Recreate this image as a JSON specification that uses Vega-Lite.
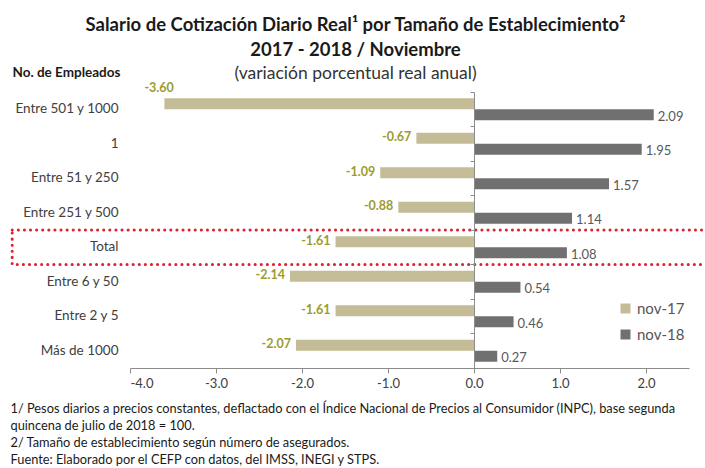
{
  "$schema": "https://vega.github.io/schema/vega-lite/v6.json",
  "autosize": {"type": "none"},
  "width": 559,
  "height": 276,
  "padding": {"left": 130, "top": 92, "right": 16, "bottom": 100},
  "background": "white",
  "config": {
    "font": "Lato",
    "view": {"stroke": null}
  },
  "title": {
    "text": ["Salario de Cotización Diario Real¹ por Tamaño de Establecimiento²", "2017 - 2018 / Noviembre"],
    "subtitle": "(variación porcentual real anual)",
    "anchor": "middle",
    "dx": -54,
    "fontSize": 18.5,
    "fontWeight": "bold",
    "color": "#1a1a1a",
    "lineHeight": 25,
    "subtitleFontSize": 17.5,
    "subtitleColor": "#333333",
    "subtitlePadding": 5,
    "offset": -17
  },
  "datasets": {
    "main": [
      {"cat": "Entre 501 y 1000", "serie": "nov-17", "valor": -3.60},
      {"cat": "Entre 501 y 1000", "serie": "nov-18", "valor": 2.09},
      {"cat": "1", "serie": "nov-17", "valor": -0.67},
      {"cat": "1", "serie": "nov-18", "valor": 1.95},
      {"cat": "Entre 51 y 250", "serie": "nov-17", "valor": -1.09},
      {"cat": "Entre 51 y 250", "serie": "nov-18", "valor": 1.57},
      {"cat": "Entre 251 y 500", "serie": "nov-17", "valor": -0.88},
      {"cat": "Entre 251 y 500", "serie": "nov-18", "valor": 1.14},
      {"cat": "Total", "serie": "nov-17", "valor": -1.61},
      {"cat": "Total", "serie": "nov-18", "valor": 1.08},
      {"cat": "Entre 6 y 50", "serie": "nov-17", "valor": -2.14},
      {"cat": "Entre 6 y 50", "serie": "nov-18", "valor": 0.54},
      {"cat": "Entre 2 y 5", "serie": "nov-17", "valor": -1.61},
      {"cat": "Entre 2 y 5", "serie": "nov-18", "valor": 0.46},
      {"cat": "Más de 1000", "serie": "nov-17", "valor": -2.07},
      {"cat": "Más de 1000", "serie": "nov-18", "valor": 0.27}
    ],
    "box": [
      {"cat": "Total", "x1": -5.37, "x2": 2.9}
    ]
  },
  "resolve": {"axis": {"y": "independent"}},
  "layer": [
    {
      "data": {"name": "main"},
      "mark": {"type": "bar", "clip": false},
      "encoding": {
        "y": {
          "field": "cat", "type": "nominal",
          "sort": ["Entre 501 y 1000", "1", "Entre 51 y 250", "Entre 251 y 500", "Total", "Entre 6 y 50", "Entre 2 y 5", "Más de 1000"],
          "scale": {"paddingInner": 0, "paddingOuter": 0},
          "axis": {
            "title": "No. de Empleados",
            "titleAngle": 0,
            "titleAlign": "left",
            "titleBaseline": "middle",
            "titleX": -118,
            "titleY": -20,
            "titleFontSize": 13.5,
            "titleFontWeight": "bold",
            "titleColor": "#1a1a1a",
            "domain": false,
            "ticks": false,
            "labelPadding": 12,
            "labelFontSize": 13.5,
            "labelColor": "#404040"
          }
        },
        "yOffset": {
          "field": "serie", "type": "nominal",
          "scale": {"paddingInner": 0, "paddingOuter": 0.57}
        },
        "x": {
          "field": "valor", "type": "quantitative",
          "scale": {"domain": [-4, 2.5], "nice": false, "zero": false},
          "axis": {
            "values": [-4, -3, -2, -1, 0, 1, 2],
            "format": ".1f",
            "labelExpr": "replace(datum.label, '−', '-')",
            "grid": false,
            "domainColor": "#8c8c8c",
            "tickColor": "#8c8c8c",
            "tickSize": 5,
            "labelFontSize": 13,
            "labelColor": "#404040",
            "labelPadding": 4,
            "title": [
              "1/ Pesos diarios a precios constantes, deflactado con el Índice Nacional de Precios al Consumidor (INPC), base segunda",
              "quincena de julio de 2018 = 100.",
              "2/ Tamaño de establecimiento según número de asegurados.",
              "Fuente: Elaborado por el CEFP con datos, del IMSS, INEGI y STPS."
            ],
            "titleAnchor": "start",
            "titleAlign": "left",
            "titleBaseline": "top",
            "titleX": -120,
            "titleY": 34,
            "titleFontSize": 12.8,
            "titleFontWeight": "normal",
            "titleColor": "#1a1a1a",
            "titleLineHeight": 17
          }
        },
        "color": {
          "field": "serie", "type": "nominal",
          "scale": {"domain": ["nov-17", "nov-18"], "range": ["#c4bc96", "#707070"]},
          "legend": {
            "title": null,
            "orient": "none",
            "legendX": 488,
            "legendY": 209,
            "symbolType": "square",
            "symbolSize": 100,
            "symbolStrokeWidth": 0,
            "labelFontSize": 15,
            "labelColor": "#555555",
            "rowPadding": 10,
            "labelOffset": 4
          }
        }
      }
    },
    {
      "data": {"name": "main"},
      "transform": [
        {"filter": "datum.serie == 'nov-17' && datum.valor > -3"},
        {"calculate": "replace(format(datum.valor, '.2f'), '−', '-')", "as": "etiqueta"}
      ],
      "mark": {"type": "text", "align": "right", "baseline": "middle", "dx": -5, "dy": -1, "fontSize": 12.5, "fontWeight": "bold", "color": "#9b9b30"},
      "encoding": {
        "y": {"field": "cat", "type": "nominal", "axis": null, "sort": ["Entre 501 y 1000", "1", "Entre 51 y 250", "Entre 251 y 500", "Total", "Entre 6 y 50", "Entre 2 y 5", "Más de 1000"]},
        "yOffset": {"field": "serie", "type": "nominal"},
        "x": {"field": "valor", "type": "quantitative"},
        "text": {"field": "etiqueta", "type": "nominal"}
      }
    },
    {
      "data": {"name": "main"},
      "transform": [
        {"filter": "datum.serie == 'nov-17' && datum.valor <= -3"},
        {"calculate": "replace(format(datum.valor, '.2f'), '−', '-')", "as": "etiqueta"}
      ],
      "mark": {"type": "text", "align": "left", "baseline": "middle", "dx": -20, "dy": -16, "fontSize": 12.5, "fontWeight": "bold", "color": "#9b9b30"},
      "encoding": {
        "y": {"field": "cat", "type": "nominal", "axis": null, "sort": ["Entre 501 y 1000", "1", "Entre 51 y 250", "Entre 251 y 500", "Total", "Entre 6 y 50", "Entre 2 y 5", "Más de 1000"]},
        "yOffset": {"field": "serie", "type": "nominal"},
        "x": {"field": "valor", "type": "quantitative"},
        "text": {"field": "etiqueta", "type": "nominal"}
      }
    },
    {
      "data": {"name": "main"},
      "transform": [{"filter": "datum.serie == 'nov-18'"}],
      "mark": {"type": "text", "align": "left", "baseline": "middle", "dx": 4, "dy": 2, "fontSize": 13, "color": "#595959"},
      "encoding": {
        "y": {"field": "cat", "type": "nominal", "axis": null, "sort": ["Entre 501 y 1000", "1", "Entre 51 y 250", "Entre 251 y 500", "Total", "Entre 6 y 50", "Entre 2 y 5", "Más de 1000"]},
        "yOffset": {"field": "serie", "type": "nominal"},
        "x": {"field": "valor", "type": "quantitative"},
        "text": {"field": "valor", "type": "quantitative", "format": ".2f"}
      }
    },
    {
      "data": {"name": "box"},
      "mark": {"type": "rect", "clip": false, "fill": null, "fillOpacity": 0, "stroke": "#e0202e", "strokeWidth": 3, "strokeDash": [0.1, 6], "strokeCap": "round"},
      "encoding": {
        "y": {
          "field": "cat", "type": "nominal",
          "sort": ["Entre 501 y 1000", "1", "Entre 51 y 250", "Entre 251 y 500", "Total", "Entre 6 y 50", "Entre 2 y 5", "Más de 1000"],
          "axis": {
            "orient": "left",
            "title": null,
            "labels": false,
            "domain": true,
            "domainColor": "#8c8c8c",
            "ticks": true,
            "tickColor": "#8c8c8c",
            "tickSize": 4,
            "bandPosition": 0,
            "offset": -344
          }
        },
        "x": {"field": "x1", "type": "quantitative"},
        "x2": {"field": "x2"}
      }
    }
  ]
}
